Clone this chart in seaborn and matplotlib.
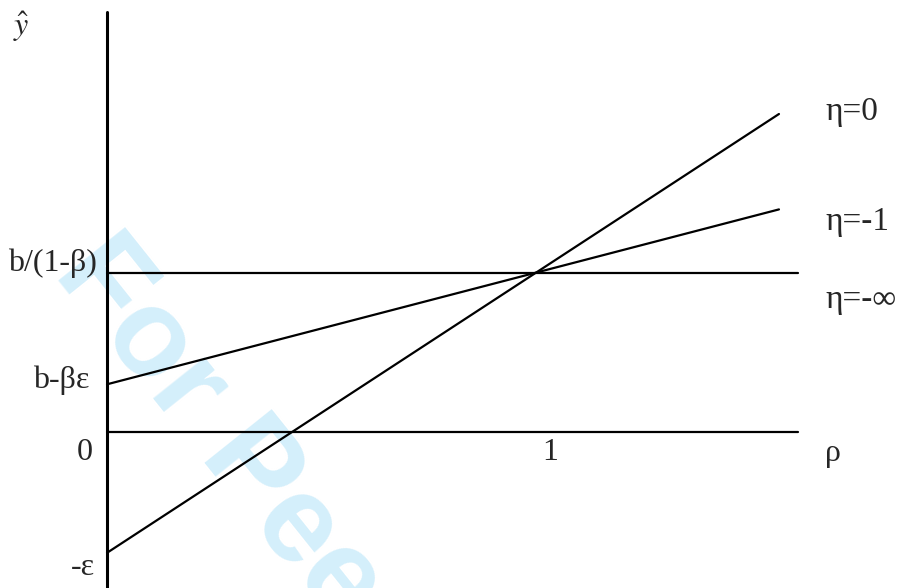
import matplotlib
matplotlib.use("Agg")
import matplotlib.pyplot as plt
import seaborn as sns
import pandas as pd

# Data (schematic: rho on x, y-hat on y; b/(1-beta) scaled to 1)
rho_ends = [0.0, 1.57]
eta0_vals = [-0.76, 2.0]       # eta = 0 : from -eps
etam1_vals = [0.30, 1.40]      # eta = -1 : from b - beta*eps
etainf_rho = [0.0, 1.614]
etainf_vals = [1.0, 1.0]       # eta = -inf : b/(1-beta)
axis_rho = [0.0, 1.614]
axis_vals = [0.0, 0.0]

ytick_vals = [1.0, 0.30, 0.0, -0.76]
ytick_labels = ["b/(1-β)", "b-βε", "0", "-ε"]
series_labels = ["η=0", "η=-1", "η=-∞"]

sns.set_theme(style="white")
plt.rcParams["font.family"] = ["Liberation Serif", "DejaVu Serif"]
plt.rcParams["mathtext.fontset"] = "stix"

W, H = 898, 588
fig = plt.figure(figsize=(W / 100, H / 100), dpi=100)
ax = fig.add_axes([0, 0, 1, 1])
# pixel mapping: x = 107 + 428*rho ; y = 432 - 159*v
ax.set_xlim(-107 / 428, (W - 107) / 428)
ax.set_ylim(-(H - 432) / 159, 432 / 159)
ax.axis("off")

df = pd.concat([
    pd.DataFrame({"rho": rho_ends, "v": eta0_vals, "s": "eta0"}),
    pd.DataFrame({"rho": rho_ends, "v": etam1_vals, "s": "etam1"}),
    pd.DataFrame({"rho": etainf_rho, "v": etainf_vals, "s": "etainf"}),
    pd.DataFrame({"rho": axis_rho, "v": axis_vals, "s": "axis"}),
])
sns.lineplot(data=df, x="rho", y="v", units="s", estimator=None,
             color="black", linewidth=1.6, ax=ax, legend=False)
# vertical axis
ax.plot([0, 0], [-(H - 432) / 159, (432 - 12) / 159], color="black", lw=2.2)

fs = 23
# watermark
ax.text(-0.126, 1.0, "For Peer Review", fontsize=89, fontweight="bold",
        family="Liberation Sans", color="#d4effb", rotation=-51.4,
        rotation_mode="anchor", ha="left", va="baseline", zorder=0,
        clip_on=True)

ytick_x = [-0.0234, -0.040, -0.033, -0.028]
ytick_y = [1.0 - 0.03, 0.30 - 0.07, -0.04, -0.76]
ytick_va = ["bottom", "bottom", "top", "top"]
for x, y, va, lab in zip(ytick_x, ytick_y, ytick_va, ytick_labels):
    ax.text(x, y, lab, fontsize=fs, ha="right", va=va)
ax.text(1.035, -0.04, "1", fontsize=fs, ha="center", va="top")
ax.text(1.678, -0.045, "ρ", fontsize=fs, ha="left", va="top")
fs2 = 24
eta_y = [2.013, 1.321, 0.830]
for y, lab in zip(eta_y, series_labels):
    ax.text(1.678, y, lab, fontsize=fs2, ha="left", va="center")
ax.text(-0.22, 2.55, r"$\hat{y}$", fontsize=fs, ha="left", va="center")

fig.savefig("out.png", dpi=100)
